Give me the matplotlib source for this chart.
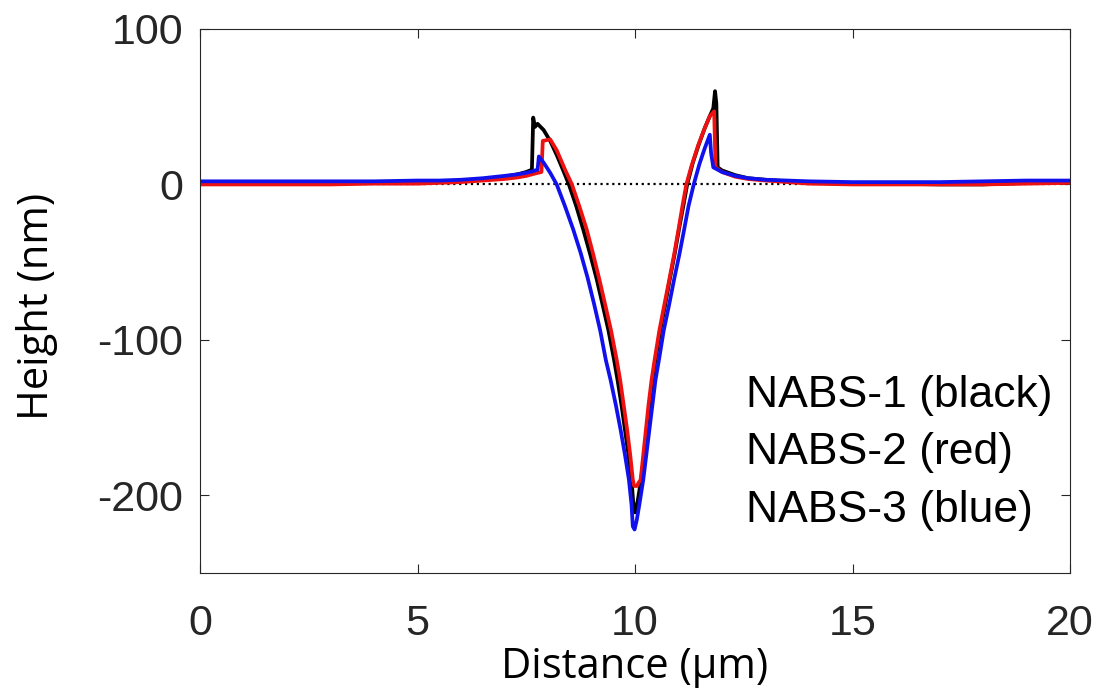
import numpy as np
import matplotlib.pyplot as plt

# height profiles (distance in um, height in nm)
x_black = [0, 1, 2, 3, 4, 5, 5.5, 6, 6.5, 7, 7.3, 7.5, 7.63, 7.66, 7.70, 7.76, 7.9, 8.05, 8.2,
           8.35, 8.48, 8.65, 8.81, 8.97, 9.12, 9.26, 9.39, 9.52, 9.6, 9.69, 9.77, 9.85, 9.92,
           9.96, 10.0, 10.06, 10.14, 10.21, 10.27, 10.33, 10.4, 10.47, 10.58, 10.69, 10.8,
           10.91, 11.01, 11.11, 11.2, 11.33, 11.47, 11.6, 11.72, 11.8, 11.84, 11.87, 11.9, 12.0,
           12.3, 12.6, 13.0, 13.5, 14, 15, 16, 17, 18, 19, 20]
y_black = [1, 1, 1, 1, 1.5, 1.5, 2, 2.5, 3.5, 5, 6.5, 8, 9.5, 43, 37, 39, 35, 28, 19,
           9, 0, -14, -29, -45, -61, -78, -94, -113, -126, -142, -158, -174, -190,
           -205, -211, -204, -190, -174, -158, -142, -126, -113, -94, -78, -61,
           -45, -29, -14, 0, 14, 26, 36, 44, 49, 60, 52, 11, 9,
           6, 4, 3, 2, 1, 0.5, 0.5, 0, 0, 1, 1.5]

x_red = [0, 1, 2, 3, 4, 5, 5.5, 6, 6.5, 7, 7.3, 7.5, 7.7, 7.85, 7.88, 8.05, 8.2, 8.4, 8.55,
         8.72, 8.89, 9.04, 9.18, 9.32, 9.45, 9.58, 9.66, 9.74, 9.82, 9.89, 9.95, 9.98, 10.05,
         10.08, 10.13, 10.19, 10.25, 10.31, 10.38, 10.45, 10.56, 10.67, 10.79, 10.9, 11.0,
         11.09, 11.18, 11.3, 11.45, 11.6, 11.72, 11.82, 11.85, 12.0, 12.3, 12.6, 13.0,
         13.5, 14, 15, 16, 17, 18, 19, 20]
y_red = [0, 0, 0, 0, 0.5, 0.5, 1, 1.5, 2.5, 3.5, 4.5, 5.5, 7, 8, 28, 29, 22, 9, 0,
         -14, -29, -45, -61, -78, -94, -113, -126, -142, -158, -174, -190, -194, -194,
         -192, -190, -174, -158, -142, -126, -113, -94, -78, -61, -45, -29,
         -14, 0, 12, 25, 36, 44, 47, 11, 8, 5, 3.5, 2.5,
         1.5, 0.5, 0, 0, 0, 0, 0.5, 1]

x_blue = [0, 1, 2, 3, 4, 5, 5.5, 6, 6.5, 7, 7.3, 7.5, 7.65, 7.76, 7.79, 7.9, 8.05, 8.2,
          8.39, 8.58, 8.75, 8.91, 9.06, 9.2, 9.33, 9.44, 9.56, 9.67, 9.77, 9.86, 9.92, 9.95,
          9.99, 10.04, 10.1, 10.19, 10.26, 10.33, 10.4, 10.47, 10.55, 10.66, 10.78, 10.9,
          11.02, 11.13, 11.23, 11.35, 11.48, 11.6, 11.72, 11.75, 11.8, 12.0, 12.3, 12.6,
          13.0, 13.5, 14, 15, 16, 17, 18, 19, 20]
y_blue = [2, 2, 2, 2, 2, 2.5, 2.5, 3, 4, 5.5, 6.5, 7.5, 8.5, 9.5, 18, 14, 7.5, 0,
          -14, -29, -44, -60, -77, -94, -113, -126, -142, -158, -174, -190, -206, -220,
          -222, -216, -206, -190, -174, -158, -142, -126, -113, -94, -78, -61,
          -45, -29, -14, 0, 13, 23, 32, 20, 11, 8, 5.5, 4,
          3, 2.5, 2, 1.5, 1.5, 1.5, 2, 2.5, 2.5]

labels = ['NABS-1 (black)', 'NABS-2 (red)', 'NABS-3 (blue)']
label_y = [-143, -180, -217]

plt.rcParams['font.family'] = ['Liberation Sans', 'DejaVu Sans']
plt.rcParams['axes.unicode_minus'] = False

fig = plt.figure(figsize=(10.98, 7), dpi=100)
ax = fig.add_axes([200 / 1098, 1 - 573 / 700, 870 / 1098, 544 / 700])

ax.plot([0, 20], [0, 0], color='black', linestyle=':', linewidth=1.6)
ax.plot(x_black, y_black, color='black', linewidth=2.7)
ax.plot(x_red, y_red, color='#ee1111', linewidth=2.7)
ax.plot(x_blue, y_blue, color='#1111ee', linewidth=2.7)

for txt, yy in zip(labels, label_y):
    ax.text(12.55, yy, txt, fontsize=32, va='baseline', ha='left', color='black')

ax.set_xlim(0, 20)
ax.set_ylim(-250, 100)
ax.set_xticks([0, 5, 10, 15, 20])
ax.set_yticks([100, 0, -100, -200])
ax.tick_params(direction='in', length=6.5, width=0.8, colors='#262626',
               labelsize=31, top=True, right=True)
ax.tick_params(axis='x', pad=22)
ax.tick_params(axis='y', pad=12)
for s in ax.spines.values():
    s.set_color('#262626')
    s.set_linewidth(0.8)

ax.set_xlabel('Distance (\u00b5m)', fontsize=30, family=['Open Sans', 'DejaVu Sans'], labelpad=2)
ax.set_ylabel('Height (nm)', fontsize=30, family=['Open Sans', 'DejaVu Sans'])
ax.yaxis.set_label_coords(-0.163, 0.49)

fig.savefig('out.png', dpi=100)
